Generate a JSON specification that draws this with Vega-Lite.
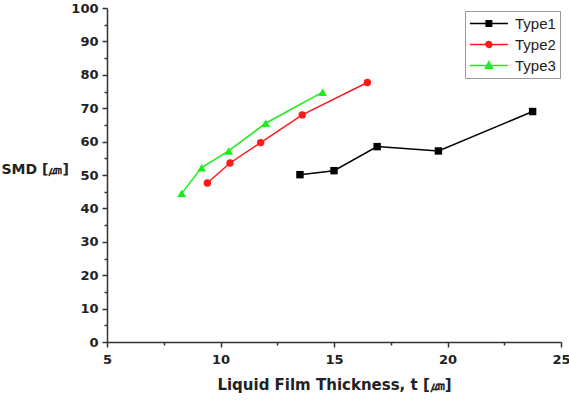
{
  "$schema": "https://vega.github.io/schema/vega-lite/v6.json",
  "width": 454,
  "height": 334,
  "autosize": {"type": "none"},
  "padding": {"left": 107, "top": 8, "right": 8, "bottom": 66},
  "background": "white",
  "config": {
    "view": {"stroke": null},
    "font": "Liberation Sans"
  },
  "data": {
    "values": [
      {"t": 13.5, "smd": 50.1, "type": "Type1"},
      {"t": 15.0, "smd": 51.3, "type": "Type1"},
      {"t": 16.9, "smd": 58.5, "type": "Type1"},
      {"t": 19.6, "smd": 57.2, "type": "Type1"},
      {"t": 23.75, "smd": 69.0, "type": "Type1"},
      {"t": 9.42, "smd": 47.6, "type": "Type2"},
      {"t": 10.42, "smd": 53.6, "type": "Type2"},
      {"t": 11.77, "smd": 59.7, "type": "Type2"},
      {"t": 13.6, "smd": 68.0, "type": "Type2"},
      {"t": 16.47, "smd": 77.7, "type": "Type2"},
      {"t": 8.29, "smd": 44.5, "type": "Type3"},
      {"t": 9.17, "smd": 52.2, "type": "Type3"},
      {"t": 10.36, "smd": 57.2, "type": "Type3"},
      {"t": 11.99, "smd": 65.5, "type": "Type3"},
      {"t": 14.5, "smd": 74.8, "type": "Type3"}
    ]
  },
  "encoding": {
    "x": {
      "field": "t", "type": "quantitative",
      "scale": {"domain": [5, 25], "nice": false, "zero": false},
      "axis": {
        "title": "Liquid Film Thickness, t [㎛]",
        "values": [5, 7.5, 10, 12.5, 15, 17.5, 20, 22.5, 25],
        "labelExpr": "datum.value % 5 === 0 ? datum.label : ''",
        "tickSize": {"condition": {"test": "datum.value % 5 === 0", "value": 5}, "value": 3},
        "grid": false,
        "domainColor": "#333", "domainWidth": 1.5,
        "tickColor": "#333", "tickWidth": 1.5,
        "labelFont": "DejaVu Sans", "labelFontWeight": "bold", "labelFontSize": 13, "labelColor": "#222",
        "labelPadding": 6, "labelFlush": false,
        "titleFont": "DejaVu Sans", "titleFontWeight": "bold", "titleFontSize": 15, "titleColor": "#222",
        "titlePadding": 11
      }
    },
    "y": {
      "field": "smd", "type": "quantitative",
      "scale": {"domain": [0, 100], "nice": false},
      "axis": {
        "title": "SMD [㎛]",
        "values": [0, 5, 10, 15, 20, 25, 30, 35, 40, 45, 50, 55, 60, 65, 70, 75, 80, 85, 90, 95, 100],
        "labelExpr": "datum.value % 10 === 0 ? datum.label : ''",
        "tickSize": {"condition": {"test": "datum.value % 10 === 0", "value": 5}, "value": 3},
        "grid": false,
        "domainColor": "#333", "domainWidth": 1.5,
        "tickColor": "#333", "tickWidth": 1.5,
        "labelFont": "DejaVu Sans", "labelFontWeight": "bold", "labelFontSize": 13, "labelColor": "#222",
        "labelPadding": 4, "labelFlush": false,
        "titleFont": "DejaVu Sans", "titleFontWeight": "bold", "titleFontSize": 14, "titleColor": "#222",
        "titleAngle": 0, "titleAlign": "left", "titleBaseline": "middle",
        "titleX": -106, "titleY": 161
      }
    }
  },
  "layer": [
    {
      "mark": {"type": "line", "strokeWidth": 1.5},
      "encoding": {
        "color": {
          "field": "type", "type": "nominal",
          "scale": {"domain": ["Type1", "Type2", "Type3"], "range": ["#000000", "#ff1a1a", "#1aee1a"]}
        },
        "detail": {"field": "type"}
      }
    },
    {
      "transform": [{"filter": "datum.type === 'Type1'"}],
      "mark": {"type": "point", "shape": "square", "filled": true, "opacity": 1, "size": 55},
      "encoding": {
        "color": {"field": "type", "type": "nominal"}
      }
    },
    {
      "transform": [{"filter": "datum.type === 'Type2'"}],
      "mark": {"type": "point", "shape": "circle", "filled": true, "opacity": 1, "size": 55},
      "encoding": {
        "color": {"field": "type", "type": "nominal"}
      }
    },
    {
      "transform": [{"filter": "datum.type === 'Type3'"}],
      "mark": {"type": "point", "shape": "triangle-up", "filled": true, "opacity": 1, "size": 75},
      "encoding": {
        "color": {"field": "type", "type": "nominal"}
      }
    },
    {
      "transform": [{"filter": "false"}],
      "mark": {"type": "point", "filled": true, "opacity": 1, "size": 231, "strokeWidth": 1.5},
      "encoding": {
        "color": {
          "field": "type", "type": "nominal",
          "legend": {
            "title": null,
            "orient": "none",
            "legendX": 358,
            "legendY": 3,
            "padding": 4,
            "strokeColor": "#999",
            "fillColor": "white",
            "symbolSize": 231,
            "symbolStrokeWidth": 1.5,
            "rowPadding": 4,
            "labelOffset": 29,
            "labelFont": "Liberation Sans",
            "labelFontSize": 15,
            "labelColor": "#222"
          }
        },
        "stroke": {
          "field": "type", "type": "nominal",
          "scale": {"domain": ["Type1", "Type2", "Type3"], "range": ["#000000", "#ff1a1a", "#1aee1a"]},
          "legend": null
        },
        "shape": {
          "field": "type", "type": "nominal",
          "scale": {"domain": ["Type1", "Type2", "Type3"], "range": [
            "M-1,0H4M1.14,-0.36H1.86V0.36H1.14Z",
            "M-1,0H4M1.12,0A0.38,0.38,0,1,0,1.88,0A0.38,0.38,0,1,0,1.12,0Z",
            "M-1,0H4M1.5,-0.5L1.95,0.35H1.05Z"
          ]},
          "legend": null
        }
      }
    }
  ]
}
